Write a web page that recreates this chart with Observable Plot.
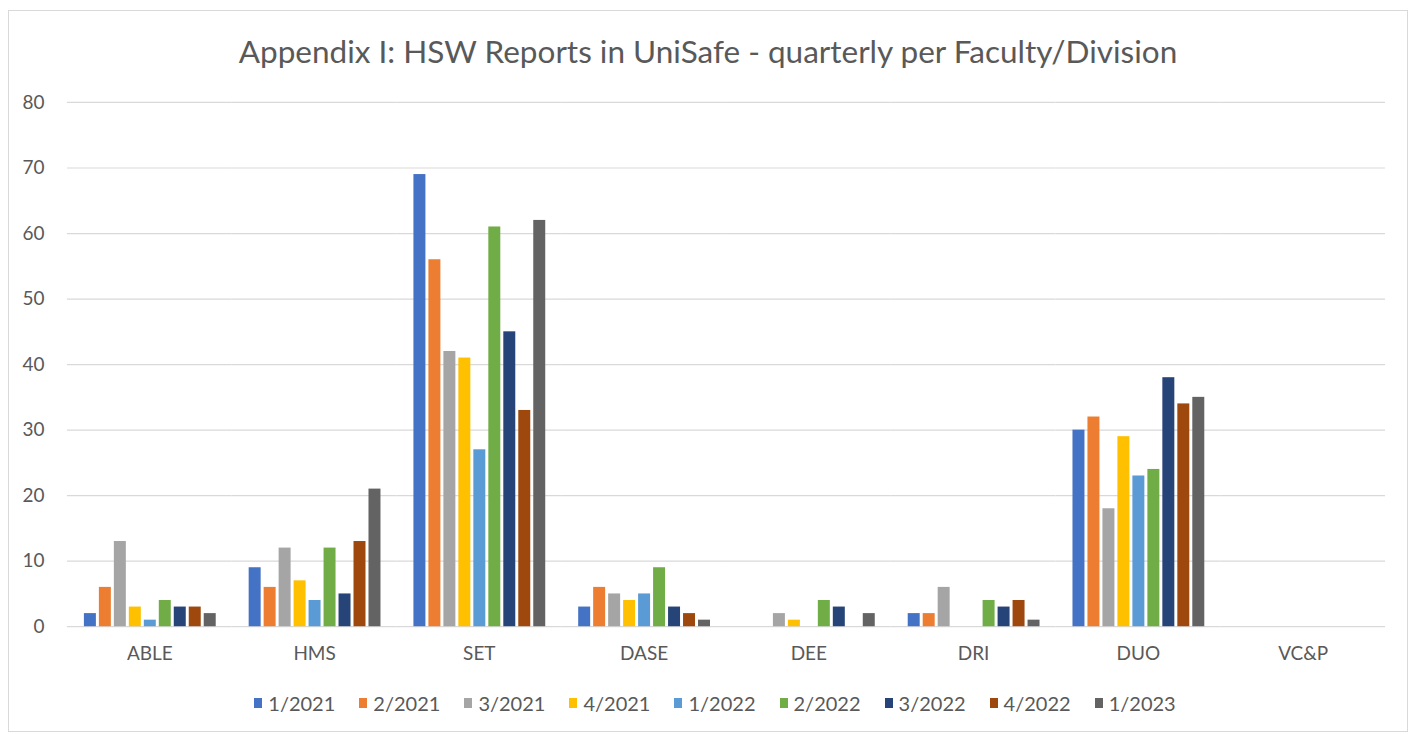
<!DOCTYPE html>
<html>
<head>
<meta charset="utf-8">
<script src="https://cdn.jsdelivr.net/npm/d3@7"></script>
<script src="https://cdn.jsdelivr.net/npm/@observablehq/plot@0.6"></script>
<style>
  html, body { margin: 0; padding: 0; background: #fff; }
  #frame { position: absolute; left: 8px; top: 10px; width: 1400px; height: 722px; border: 1px solid #d9d9d9; box-sizing: border-box; font-family: Lato, "Open Sans", sans-serif; color: #595959; }
  #title { position: absolute; left: 0; width: 100%; top: 19px; text-align: center; font-size: 31.5px; line-height: 42px; }
  #chart { position: absolute; left: 0; top: 70px; }
  #legend { position: absolute; left: 19px; width: 100%; top: 675px; }
  #legend > div { justify-content: center; }
  #legend > div > * { margin-right: 24px !important; }
  #legend > div > * > svg { margin-right: 6px !important; }
</style>
</head>
<body>
<div id="frame">
  <div id="title">Appendix I: HSW Reports in UniSafe - quarterly per Faculty/Division</div>
  <div id="chart"></div>
  <div id="legend"></div>
</div>
<script>
const categories = ["ABLE", "HMS", "SET", "DASE", "DEE", "DRI", "DUO", "VC&P"];
const series = ["1/2021", "2/2021", "3/2021", "4/2021", "1/2022", "2/2022", "3/2022", "4/2022", "1/2023"];
const colors = ["#4472C4", "#ED7D31", "#A5A5A5", "#FFC000", "#5B9BD5", "#70AD47", "#264478", "#9E480E", "#636363"];
// values per category, in the order of `series`
const ABLE = [2, 6, 13, 3, 1, 4, 3, 3, 2];
const HMS  = [9, 6, 12, 7, 4, 12, 5, 13, 21];
const SET  = [69, 56, 42, 41, 27, 61, 45, 33, 62];
const DASE = [3, 6, 5, 4, 5, 9, 3, 2, 1];
const DEE  = [0, 0, 2, 1, 0, 4, 3, 0, 2];
const DRI  = [2, 2, 6, 0, 0, 4, 3, 4, 1];
const DUO  = [30, 32, 18, 29, 23, 24, 38, 34, 35];
const VCP  = [0, 0, 0, 0, 0, 0, 0, 0, 0];
const yTicks = [0, 10, 20, 30, 40, 50, 60, 70, 80];

const byCat = [ABLE, HMS, SET, DASE, DEE, DRI, DUO, VCP];
const data = [];
categories.forEach((c, i) => series.forEach((s, j) => data.push({cat: c, series: s, value: byCat[i][j]})));

const chart = Plot.plot({
  width: 1400,
  height: 586,
  marginTop: 21,
  marginBottom: 40,
  marginLeft: 58,
  marginRight: 22,
  style: {fontFamily: "Lato, 'Open Sans', sans-serif", fontSize: "19px", color: "#595959", background: "transparent"},
  fx: {domain: categories, padding: 0, label: null},
  x: {domain: series, axis: null, paddingInner: 0.2, paddingOuter: 0.84},
  y: {domain: [0, 80], axis: null},
  color: {domain: series, range: colors},
  marks: [
    Plot.ruleY(yTicks, {stroke: "#d9d9d9", strokeWidth: 1.2}),
    Plot.barY(data, {fx: "cat", x: "series", y: "value", fill: "series"}),
    Plot.axisY(yTicks, {tickSize: 0, tickPadding: 23, fontSize: 19, label: null}),
    Plot.axisFx({anchor: "bottom", tickSize: 0, tickPadding: 20, fontSize: 19, label: null})
  ]
});
document.getElementById("chart").appendChild(chart);

const legend = Plot.legend({
  color: {domain: series, range: colors},
  swatchWidth: 8,
  swatchHeight: 10,
  style: {fontFamily: "Lato, 'Open Sans', sans-serif", fontSize: "20px", color: "#595959"}
});
document.getElementById("legend").appendChild(legend);
</script>
</body>
</html>
